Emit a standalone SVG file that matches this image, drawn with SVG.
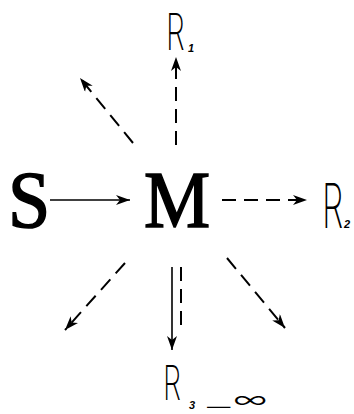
<svg xmlns="http://www.w3.org/2000/svg" width="354" height="414" viewBox="0 0 354 414">
<defs>
<style>
.big{font-family:"Liberation Serif",serif;font-weight:normal;fill:#000;stroke:#000;stroke-width:1.6}
.r{font-family:Inter,"DejaVu Sans",sans-serif;font-weight:200;fill:#000}
.sub{font-family:"Liberation Sans",sans-serif;font-weight:bold;font-style:italic;fill:#000}
.dash{stroke:#000;stroke-width:2;fill:none;stroke-dasharray:14 8}
.solid{stroke:#000;stroke-width:1.6;fill:none}
</style>
<marker id="ah" markerUnits="userSpaceOnUse" markerWidth="16" markerHeight="12" refX="14" refY="5" orient="auto">
<path d="M0,0 L14,5 L0,10 L4,5 Z" fill="#000"/>
</marker>
</defs>
<rect width="354" height="414" fill="#fff"/>
<g id="S"><text class="big" transform="translate(8,227) scale(0.95,1)" font-size="80">S</text></g>
<g id="M"><text class="big" transform="translate(177,227) scale(0.93,1)" font-size="80" text-anchor="middle">M</text></g>
<g id="R1"><text class="r" transform="translate(166,50) scale(0.6,1)" font-size="50">R</text><text class="sub" x="188" y="52" font-size="11">1</text></g>
<g id="R2"><text class="r" transform="translate(322,228) scale(0.55,1)" font-size="62">R</text><text class="sub" x="344" y="228" font-size="11">2</text></g>
<g id="R3"><text class="r" transform="translate(163,400) scale(0.6,1)" font-size="48">R</text><text class="sub" x="189" y="409" font-size="11">3</text><text class="r" style="font-weight:500" transform="translate(207,411) scale(1.8,1)" font-size="13">—</text><text class="r" style="font-weight:300" transform="translate(233,408) scale(1.25,0.8)" font-size="30">∞</text></g>
<g id="connectors">
<line class="solid" x1="50" y1="200" x2="130" y2="200" marker-end="url(#ah)"/>
<line class="dash" x1="176" y1="145" x2="176" y2="57" marker-end="url(#ah)"/>
<line class="dash" x1="133" y1="143" x2="80" y2="78" marker-end="url(#ah)"/>
<line class="dash" x1="222" y1="200" x2="307" y2="200" marker-end="url(#ah)"/>
<line class="dash" x1="227" y1="258" x2="285" y2="328" marker-end="url(#ah)"/>
<line class="dash" x1="125" y1="263" x2="65" y2="330" marker-end="url(#ah)"/>
<line class="dash" x1="181" y1="267" x2="181" y2="333"/>
<line class="solid" x1="172" y1="267" x2="172" y2="350" marker-end="url(#ah)"/>
</g>
</svg>
